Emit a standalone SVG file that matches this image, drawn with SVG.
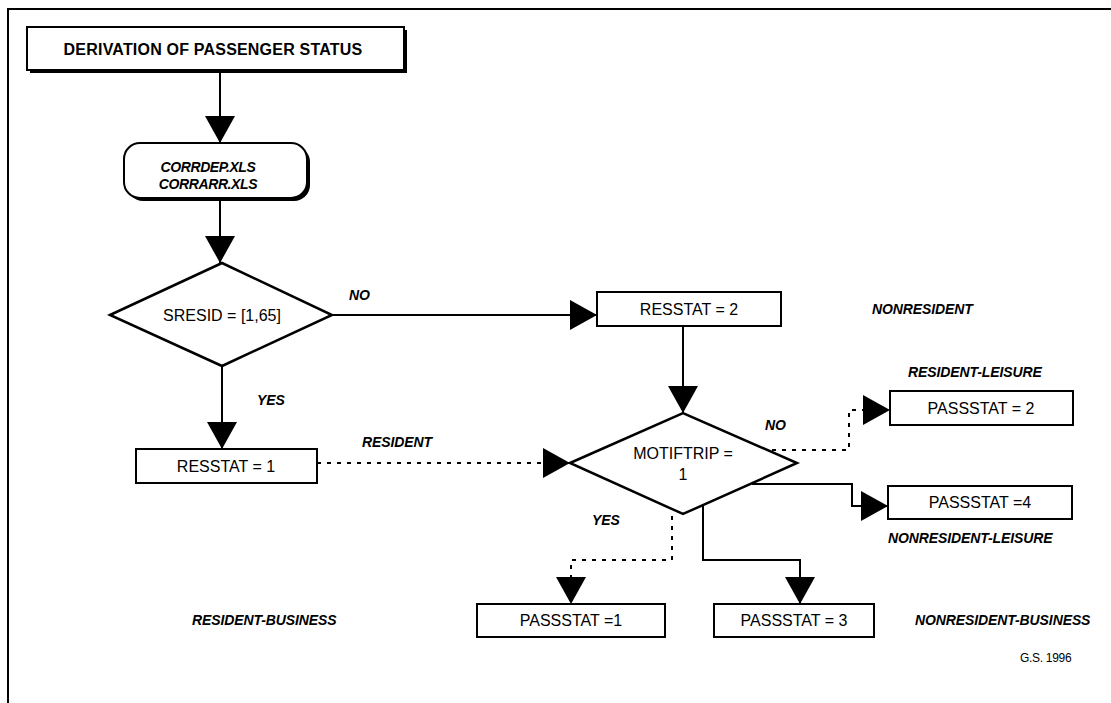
<svg xmlns="http://www.w3.org/2000/svg" width="1111" height="703" viewBox="0 0 1111 703">
  <style>
    .box { fill: #fff; stroke: #000; stroke-width: 2; }
    .shadow { fill: #000; }
    .dia { fill: #fff; stroke: #000; stroke-width: 2.5; stroke-linejoin: miter; }
    .flow { fill: none; stroke: #000; stroke-width: 2; }
    .dash { fill: none; stroke: #000; stroke-width: 2; stroke-dasharray: 4 6; }
    .node { font-family: "Liberation Sans", Arial, sans-serif; font-size: 16px; fill: #000; text-anchor: middle; }
    .title { font-family: "Liberation Sans", Arial, sans-serif; font-size: 16px; font-weight: bold; fill: #000; text-anchor: middle; letter-spacing: 0.2px; }
    .file { font-family: "Liberation Sans", Arial, sans-serif; font-size: 14px; font-weight: bold; font-style: italic; fill: #000; text-anchor: middle; letter-spacing: -0.4px; }
    .lbl { font-family: "Liberation Sans", Arial, sans-serif; font-size: 14px; font-weight: bold; font-style: italic; fill: #000; letter-spacing: -0.1px; }
    .sig { font-family: "Liberation Sans", Arial, sans-serif; font-size: 12px; fill: #000; letter-spacing: -0.3px; }
  </style>
  <defs>
    <marker id="head" viewBox="0 0 27 30" refX="27" refY="15" markerWidth="27" markerHeight="30" markerUnits="userSpaceOnUse" orient="auto">
      <path d="M0,0 L27,15 L0,30 Z" fill="#000"/>
    </marker>
  </defs>

  <rect width="1111" height="703" fill="#fff"/>
  <!-- page frame -->
  <path d="M8,703 L8,9 L1111,9" fill="none" stroke="#000" stroke-width="2"/>

  <g id="title">
    <rect class="shadow" x="30" y="30" width="377" height="43"/>
    <rect class="box" x="27" y="27" width="377" height="43"/>
    <text class="title" x="213" y="55">DERIVATION OF PASSENGER STATUS</text>
  </g>

  <g id="files">
    <rect class="shadow" x="127" y="146" width="183" height="55" rx="16"/>
    <rect class="box" x="124" y="143" width="183" height="55" rx="16"/>
    <text class="file" x="208" y="172">CORRDEP.XLS</text>
    <text class="file" x="208" y="189">CORRARR.XLS</text>
  </g>

  <g id="sresid">
    <polygon class="dia" points="110,315 222,263 332,315 222,366"/>
    <text class="node" x="222" y="321">SRESID = [1,65]</text>
  </g>

  <g id="resstat2">
    <rect class="box" x="597" y="292" width="184" height="34"/>
    <text class="node" x="689" y="315">RESSTAT = 2</text>
  </g>

  <g id="resstat1">
    <rect class="box" x="136" y="449" width="181" height="34"/>
    <text class="node" x="226" y="472">RESSTAT = 1</text>
  </g>

  <g id="motiftrip">
    <polygon class="dia" points="570,463 683,413 797,463 683,514"/>
    <text class="node" x="683" y="459">MOTIFTRIP =</text>
    <text class="node" x="683" y="480">1</text>
  </g>

  <g id="passstat2">
    <rect class="box" x="890" y="391" width="183" height="34"/>
    <text class="node" x="981" y="414">PASSSTAT = 2</text>
  </g>

  <g id="passstat4">
    <rect class="box" x="888" y="486" width="184" height="33"/>
    <text class="node" x="980" y="508">PASSSTAT =4</text>
  </g>

  <g id="passstat1">
    <rect class="box" x="477" y="604" width="188" height="33"/>
    <text class="node" x="571" y="626">PASSSTAT =1</text>
  </g>

  <g id="passstat3">
    <rect class="box" x="714" y="604" width="160" height="33"/>
    <text class="node" x="794" y="626">PASSSTAT = 3</text>
  </g>

  <g id="connectors">
    <path class="flow" d="M220,70 L220,143" marker-end="url(#head)"/>
    <path class="flow" d="M220,198 L220,263" marker-end="url(#head)"/>
    <path class="flow" d="M332,315 L597,315" marker-end="url(#head)"/>
    <path class="flow" d="M222,366 L222,449" marker-end="url(#head)"/>
    <path class="flow" d="M683,326 L683,413" marker-end="url(#head)"/>
    <path class="dash" d="M317,463 L570,463" marker-end="url(#head)"/>
    <path class="dash" d="M772,450 L849,450 L849,410 L890,410" marker-end="url(#head)"/>
    <path class="flow" d="M752,484 L852,484 L852,506 L888,506" marker-end="url(#head)"/>
    <path class="dash" d="M672,516 L672,560 L571,560 L571,604" marker-end="url(#head)"/>
    <path class="flow" d="M703,505 L703,560 L800,560 L800,604" marker-end="url(#head)"/>
  </g>

  <g id="labels">
    <text class="lbl" x="349" y="300">NO</text>
    <text class="lbl" x="257" y="405">YES</text>
    <text class="lbl" x="362" y="447">RESIDENT</text>
    <text class="lbl" x="872" y="314">NONRESIDENT</text>
    <text class="lbl" x="765" y="430">NO</text>
    <text class="lbl" x="908" y="377">RESIDENT-LEISURE</text>
    <text class="lbl" x="888" y="543">NONRESIDENT-LEISURE</text>
    <text class="lbl" x="592" y="525">YES</text>
    <text class="lbl" x="192" y="625">RESIDENT-BUSINESS</text>
    <text class="lbl" x="915" y="625">NONRESIDENT-BUSINESS</text>
    <text class="sig" x="1020" y="662">G.S. 1996</text>
  </g>
</svg>
